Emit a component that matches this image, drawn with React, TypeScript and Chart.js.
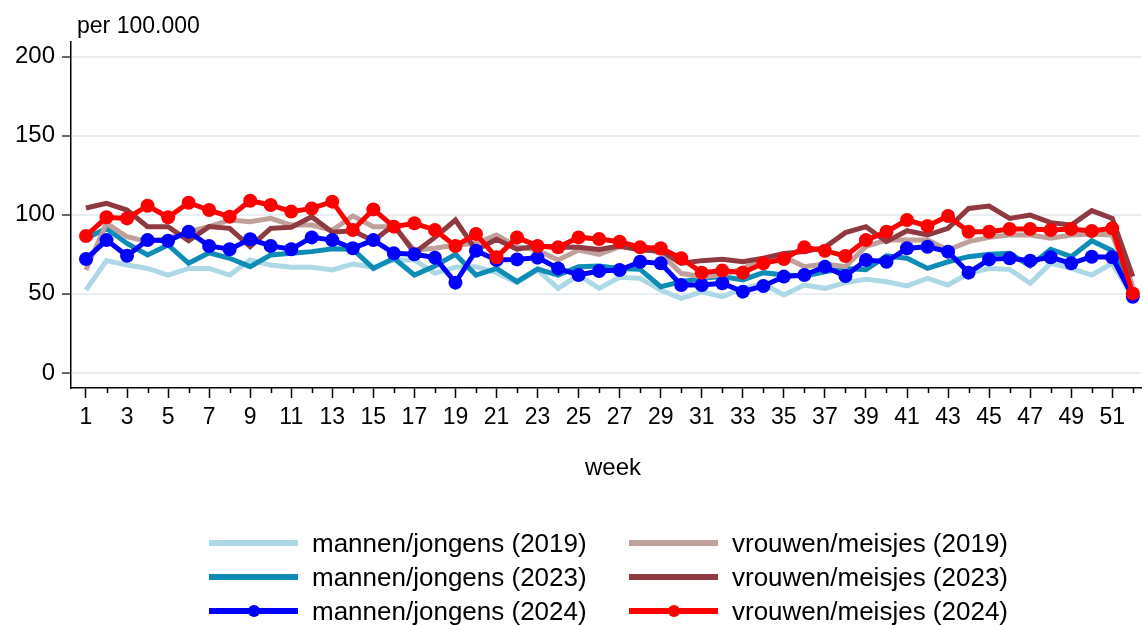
import React, { useEffect, useRef } from "react";
import { Chart, registerables } from "chart.js";
Chart.register(...registerables);

const weeks = [1, 2, 3, 4, 5, 6, 7, 8, 9, 10, 11, 12, 13, 14, 15, 16, 17, 18, 19, 20, 21, 22, 23, 24, 25, 26,
  27, 28, 29, 30, 31, 32, 33, 34, 35, 36, 37, 38, 39, 40, 41, 42, 43, 44, 45, 46, 47, 48, 49, 50, 51, 52];

const yTicks = [0, 50, 100, 150, 200];

const mannen2019 = [52.4, 71, 68.2, 66.1, 61.9, 66.1, 66.1, 61.9, 71.4, 68.2, 66.8, 66.8, 65.1, 68.9, 66.8, 71.4, 71.4, 63, 66.8, 67.2, 63.4, 57.1, 65.1, 53.5, 61.9, 53.5,
  60.5, 59.8, 52.4, 47.1, 51.3, 48.2, 53.5, 56.2, 49.3, 55.6, 53.5, 57.1, 59.2, 57.7, 55, 59.8, 55.6, 63, 66.1, 65.5, 56.7, 69.3, 66.1, 61.9, 69.3, 48];
const mannen2023 = [85, 91.4, 81.9, 74.6, 80.9, 69.3, 76, 72.5, 67.2, 74.6, 75.6, 76.7, 78.5, 78.2, 66.1, 72.5, 61.9, 67.6, 75, 61.9, 66.1, 57.7, 65.7, 61.9, 67.2, 67.6,
  66.1, 65.5, 54.5, 57.7, 59.8, 60.9, 58.8, 63.4, 61.9, 61.3, 64, 66.1, 65.3, 74, 72.5, 66.1, 70.3, 73.5, 75, 75.6, 67.6, 78.2, 73.5, 83.6, 77.3, 50.3];
const mannen2024 = [72, 84, 74.1, 84, 83.6, 89.3, 80.3, 78.2, 84.5, 80.3, 78.2, 85.7, 84, 78.8, 84, 75.6, 75, 72.9, 57.1, 77.3, 71.4, 71.8, 72.9, 66.1, 61.9, 64.5,
  65.1, 70.3, 69.3, 55.6, 55.6, 56.7, 51.4, 55, 60.9, 61.9, 67.2, 61.3, 71.4, 70.3, 78.8, 79.8, 76.7, 63.4, 71.8, 72.5, 71, 73.1, 69.3, 73.5, 73.1, 48.2];
const vrouwen2019 = [65.1, 94.6, 86.1, 83, 85.1, 89.3, 92.5, 96.7, 95.6, 97.7, 93.5, 93.5, 90.2, 99.2, 92.5, 92.5, 77.7, 78.8, 80.9, 82, 87.2, 79.8, 77.7, 71.4, 77.7, 75,
  79.8, 79.4, 75.6, 63, 60.9, 61.9, 66.1, 71.4, 73.5, 67.2, 68.9, 67.2, 80, 84, 84, 84, 77.7, 83, 85.7, 87.2, 87.2, 85.1, 87.2, 87.8, 87.2, 55];
const vrouwen2023 = [104.3, 107.2, 103, 92.5, 92.5, 83.6, 92.5, 91.4, 79.8, 91.4, 92.1, 98.8, 89, 89.9, 83.6, 93.5, 76, 85.7, 96.7, 77.7, 84.5, 78.2, 80.3, 79.4, 79.4, 78,
  80.3, 77.7, 77.3, 69.3, 71, 71.8, 70.3, 72.5, 75.6, 76.7, 79.4, 88.7, 92.5, 83, 89.9, 87.2, 91.4, 104, 105.5, 97.7, 99.8, 95, 93.5, 102.6, 97.7, 60.9];
const vrouwen2024 = [86.6, 98.4, 97.7, 105.7, 98.4, 107.6, 103, 98.8, 108.9, 106.2, 102, 104, 108.3, 90.4, 103.4, 92.5, 94.6, 90.4, 80.3, 87.8, 73.1, 85.7, 80.3, 79.4, 85.7, 84.7,
  83, 79.4, 78.8, 72.5, 63.4, 64.7, 63.4, 69.3, 72, 79.4, 77.3, 73.9, 84, 89.3, 96.7, 92.9, 99.2, 89.3, 89.3, 91, 91, 90.4, 91, 89.7, 91.4, 50.3];

const FONT = '"Liberation Sans", Arial, Helvetica, sans-serif';

const series = [
  { label: "mannen/jongens (2019)", data: mannen2019, color: "#add8e6", markers: false, order: 5 },
  { label: "mannen/jongens (2023)", data: mannen2023, color: "#0d8cb6", markers: false, order: 4 },
  { label: "mannen/jongens (2024)", data: mannen2024, color: "#0000ff", markers: true, order: 1 },
  { label: "vrouwen/meisjes (2019)", data: vrouwen2019, color: "#c0a09b", markers: false, order: 3 },
  { label: "vrouwen/meisjes (2023)", data: vrouwen2023, color: "#8f3a41", markers: false, order: 2 },
  { label: "vrouwen/meisjes (2024)", data: vrouwen2024, color: "#ff0000", markers: true, order: 0 },
];

const legendCols = [
  [series[0], series[1], series[2]],
  [series[3], series[4], series[5]],
];

export default function App() {
  const ref = useRef<HTMLCanvasElement | null>(null);

  useEffect(() => {
    const canvas = ref.current;
    if (!canvas) return;
    const decor = {
      id: "decor",
      afterDraw(chart: any) {
        const ctx = chart.ctx;
        const xs = chart.scales.x;
        ctx.save();
        ctx.strokeStyle = "#000";
        ctx.lineWidth = 1.5;
        for (const w of weeks) {
          if (w % 2 === 0) {
            const px = Math.round(xs.getPixelForValue(w)) + 0.5;
            ctx.beginPath();
            ctx.moveTo(px, xs.top);
            ctx.lineTo(px, xs.top + 5);
            ctx.stroke();
          }
        }
        ctx.fillStyle = "#000";
        ctx.font = `23px ${FONT}`;
        ctx.textAlign = "left";
        ctx.textBaseline = "alphabetic";
        ctx.fillText("per 100.000", 77, 33);
        ctx.font = `24px ${FONT}`;
        ctx.textAlign = "center";
        ctx.fillText("week", 613, 475);
        ctx.restore();
      },
    };

    const chart = new Chart(canvas, {
      type: "line",
      data: {
        datasets: series.map((s) => ({
          label: s.label,
          data: s.data.map((v, i) => ({ x: weeks[i], y: v })),
          borderColor: s.color,
          backgroundColor: s.color,
          borderWidth: 5,
          pointRadius: s.markers ? 7 : 0,
          pointBorderWidth: 0,
          pointHoverRadius: s.markers ? 7 : 0,
          tension: 0,
          order: s.order,
          fill: false,
        })),
      },
      options: {
        responsive: false,
        animation: false,
        events: [],
        layout: { padding: { top: 42, left: 0, right: 0, bottom: 0 } },
        plugins: { legend: { display: false }, tooltip: { enabled: false }, title: { display: false } },
        scales: {
          x: {
            type: "linear",
            min: 0.27,
            max: 52.4,
            afterBuildTicks: (scale: any) => {
              scale.ticks = weeks.map((w) => ({ value: w }));
            },
            afterFit: (scale: any) => {
              scale.height = 237;
            },
            ticks: {
              autoSkip: false,
              maxRotation: 0,
              minRotation: 0,
              padding: 6,
              color: "#000",
              font: { family: FONT, size: 23 },
              callback: (v: any) => (Number(v) % 2 === 1 ? String(v) : ""),
            },
            grid: {
              display: true,
              drawOnChartArea: false,
              drawTicks: true,
              tickLength: 10,
              tickWidth: 1.5,
              tickColor: (ctx: any) => (ctx.tick && ctx.tick.value % 2 === 1 ? "#000" : "rgba(0,0,0,0)"),
            },
            border: { display: true, color: "#000", width: 1.5 },
          },
          y: {
            type: "linear",
            min: -9.5,
            max: 209.2,
            afterBuildTicks: (scale: any) => {
              scale.ticks = yTicks.map((v) => ({ value: v }));
            },
            afterFit: (scale: any) => {
              scale.width = 71;
            },
            ticks: {
              padding: 7,
              color: "#000",
              font: { family: FONT, size: 24 },
            },
            grid: {
              color: "#e8eef2",
              lineWidth: 2,
              drawTicks: true,
              tickLength: 9,
              tickColor: "#333",
              tickWidth: 1.5,
            },
            border: { display: true, color: "#000", width: 1.5 },
          },
        },
      },
      plugins: [decor],
    } as any);
    return () => chart.destroy();
  }, []);

  const rowY = [543, 577, 611];
  const colX = [{ line: 209, text: 312 }, { line: 629, text: 732 }];

  return (
    <div style={{ position: "absolute", left: 0, top: 0, width: 1148, height: 625, background: "#fff", overflow: "hidden" }}>
      <canvas ref={ref} width={1148} height={625} style={{ display: "block", width: 1148, height: 625 }} />
      {legendCols.map((col, ci) =>
        col.map((s, ri) => (
          <React.Fragment key={`${ci}-${ri}`}>
            <div
              style={{
                position: "absolute",
                left: colX[ci].line,
                top: rowY[ri] - 3,
                width: 89,
                height: 6,
                background: s.color,
              }}
            />
            {s.markers && (
              <div
                style={{
                  position: "absolute",
                  left: colX[ci].line + 44.5 - 6,
                  top: rowY[ri] - 6,
                  width: 12,
                  height: 12,
                  borderRadius: "50%",
                  background: s.color,
                }}
              />
            )}
            <div
              style={{
                position: "absolute",
                left: colX[ci].text,
                top: rowY[ri] - 20,
                height: 40,
                lineHeight: "40px",
                fontFamily: FONT,
                fontSize: 26,
                color: "#000",
                whiteSpace: "nowrap",
              }}
            >
              {s.label}
            </div>
          </React.Fragment>
        ))
      )}
    </div>
  );
}
